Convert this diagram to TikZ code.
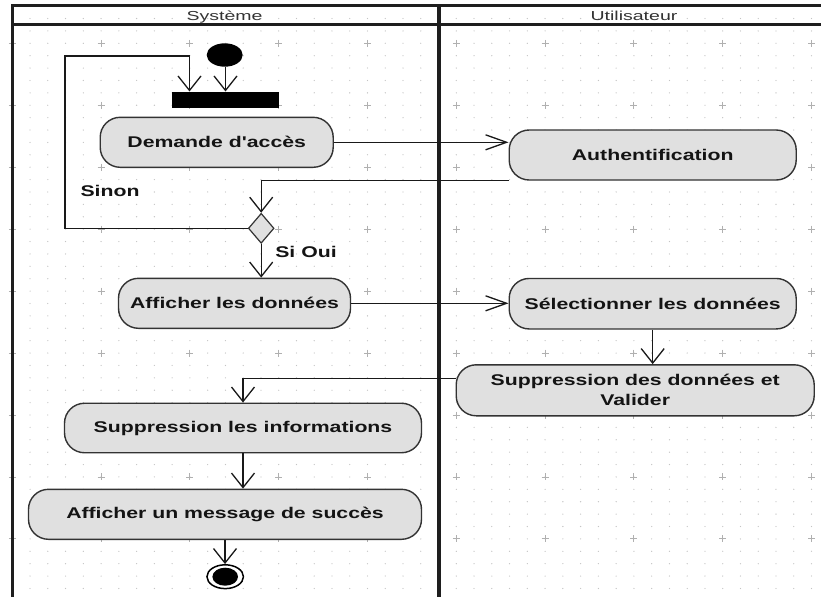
\documentclass[tikz,border=0pt]{standalone}
\usepackage{fontspec}
\usetikzlibrary{arrows.meta,calc,shapes.geometric}
\newfontfamily\actfont[FakeStretch=1.37]{Liberation Sans}
\newfontfamily\lanefont[FakeStretch=1.5]{Liberation Sans}
\definecolor{actfill}{HTML}{E0E0E0}
\definecolor{actline}{HTML}{333333}
\definecolor{dotc}{HTML}{C4C4C4}
\definecolor{crossc}{HTML}{B0B0B0}
\definecolor{lanec}{HTML}{1E1E1E}
\begin{document}
\begin{tikzpicture}[x=1pt,y=-1pt,
  action/.style={draw=actline, fill=actfill, line width=1.4pt, rounded corners=20pt,
    inner sep=0pt, align=center, text=black!92,
    font=\actfont\bfseries\fontsize{15.5}{20}\selectfont},
  guard/.style={inner sep=0pt, text=black!92,
    font=\actfont\bfseries\fontsize{15.5}{20}\selectfont},
  lanetitle/.style={inner sep=0pt, anchor=base, text=black!80,
    font=\lanefont\fontsize{13}{15}\selectfont},
  flow/.style={draw=black!90, line width=1.3pt},
  varr/.style={flow, -{Straight Barb[length=14.5pt,width=23pt]}},
  harr/.style={flow, -{Straight Barb[length=21pt,width=15pt]}},
  laneline/.style={draw=lanec}
]
\useasboundingbox (0,0) rectangle (821,597);
\fill[white] (0,0) rectangle (821,597);

% background grid: small dots, with a cross every fifth dot
\foreach \i in {0,...,45}{
  \foreach \j in {-2,...,44}{
    \fill[dotc] ({12.3+17.76*\i},{43.3+12.39*\j}) circle (0.65);
  }
}
\foreach \i in {0,5,...,45}{
  \foreach \j in {0,5,...,40}{
    \draw[crossc, line width=0.9pt]
      ({12.3+17.76*\i-3.5},{43.3+12.39*\j}) -- ++(7,0)
      ({12.3+17.76*\i},{43.3+12.39*\j-3.5}) -- ++(0,7);
  }
}

% swimlanes
\draw[laneline, line width=2.2pt] (12,5.5) -- (821,5.5);
\draw[laneline, line width=2.8pt] (12,24.7) -- (821,24.7);
\draw[laneline, line width=3pt] (12,4.4) -- (12,597);
\draw[laneline, line width=3.5pt] (439,4.4) -- (439,597);
\node[lanetitle] (lsys) at (224.5,20.5) {Système};
\node[lanetitle] (lusr) at (634,20.5) {Utilisateur};

% control nodes
\node[ellipse, fill=black, minimum width=36pt, minimum height=23.4pt, inner sep=0pt] (init) at (224.7,55) {};
\node[fill=black, minimum width=107.6pt, minimum height=16.6pt, inner sep=0pt] (bar) at (225.5,100) {};
\node[diamond, draw=actline, fill=actfill, line width=1.2pt, minimum width=25.7pt, minimum height=30pt, inner sep=0pt] (dec) at (261.2,228.3) {};
\node[ellipse, draw=black, line width=1.5pt, fill=white, minimum width=36.5pt, minimum height=23.8pt, inner sep=0pt] (fin) at (225.2,576.7) {};
\fill[black] (fin.center) ellipse [x radius=12.8, y radius=9];

% actions
\node[action, minimum width=233pt, minimum height=50pt] (dem) at (216.7,142.3) {Demande d'accès};
\node[action, minimum width=287pt, minimum height=50pt] (auth) at (652.7,155) {Authentification};
\node[action, minimum width=232pt, minimum height=50pt] (aff) at (234.5,303.3) {Afficher les données};
\node[action, minimum width=287pt, minimum height=50.5pt] (sel) at (652.7,303.7) {Sélectionner les données};
\node[action, minimum width=358pt, minimum height=51pt] (supd) at (635.2,390.3) {Suppression des données et\\Valider};
\node[action, minimum width=357pt, minimum height=49.5pt] (supi) at (243,428) {Suppression les informations};
\node[action, minimum width=393pt, minimum height=50pt] (msg) at (225,514.3) {Afficher un message de succès};

% guards
\node[guard] (gno) at (110,190.5) {Sinon};
\node[guard] (gyes) at (306,251.7) {Si Oui};

% flows
\coordinate (loopcorner) at (65,56);
\draw[varr] (init.south -| bar.north) -- (bar.north);
\draw[varr] (dec.west) -| (loopcorner) -| ($(bar.north west)+(18,0)$);
\draw[harr] (dem.east) -- (dem.east -| auth.west);
\draw[varr] (auth.south west) -| (dec.north);
\draw[varr] (dec.south) -- (dec.south |- aff.north);
\draw[harr] (aff.east) -- (aff.east -| sel.west);
\draw[varr] (sel.south) -- (sel.south |- supd.north);
\draw[varr] ($(supd.west)+(0,-12)$) -| (supi.north);
\draw[varr] (supi.south) -- (supi.south |- msg.north);
\draw[varr] (msg.south) -- (msg.south |- fin.north);
\end{tikzpicture}
\end{document}
